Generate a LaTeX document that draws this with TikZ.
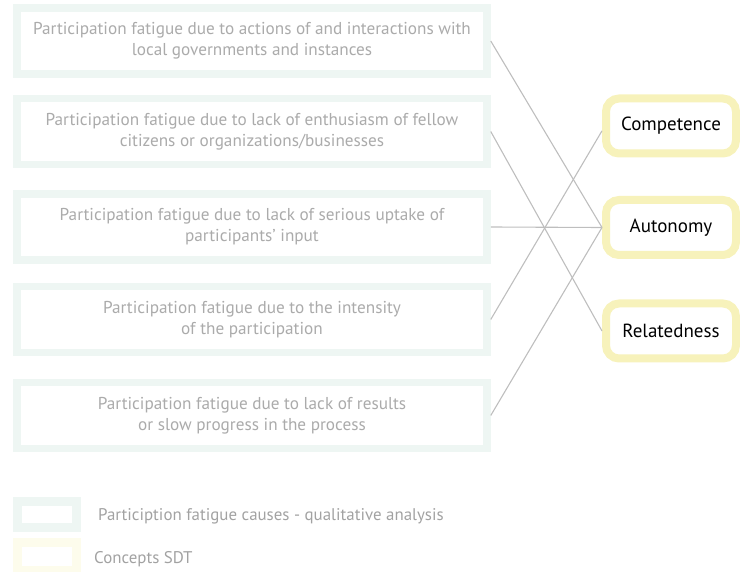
\documentclass[tikz,border=0pt]{standalone}
\usepackage{fontspec}
\setmainfont{PT Sans}
\definecolor{causeborder}{HTML}{EEF6F3}
\definecolor{causetext}{HTML}{ABABAB}
\definecolor{sdtborder}{HTML}{F7F2BB}
\definecolor{legyellow}{HTML}{FDFCEC}
\definecolor{legtext}{HTML}{A2A2A2}
\definecolor{linkgray}{HTML}{BEBEBE}
\begin{document}
\begin{tikzpicture}[x=1pt,y=-1pt,
  cause/.style={draw=causeborder,line width=7.5pt,fill=white,minimum width=470pt,minimum height=66pt,
    inner sep=0pt,align=center,text=causetext,font=\fontsize{17.2}{21}\selectfont},
  sdt/.style={draw=sdtborder,line width=8pt,fill=white,rounded corners=13pt,minimum width=130pt,
    minimum height=55pt,inner sep=0pt,text=black,font=\fontsize{19}{20}\selectfont},
  link/.style={draw=linkgray,line width=1.1pt},
  legtxt/.style={anchor=west,inner sep=0pt,text=legtext,font=\fontsize{16.9}{20}\selectfont}]
\useasboundingbox (0,0) rectangle (740,572);
\node[cause] (c1) at (252,41) {Participation fatigue due to actions of and interactions with\\local governments and instances};
\node[cause] (c2) at (252,131.5) {Participation fatigue due to lack of enthusiasm of fellow\\citizens or organizations/businesses};
\node[cause] (c3) at (252,227) {Participation fatigue due to lack of serious uptake of\\participants’ input};
\node[cause] (c4) at (252,319.5) {Participation fatigue due to the intensity\\of the participation};
\node[cause] (c5) at (252,415.5) {Participation fatigue due to lack of results\\or slow progress in the process};
\node[sdt] (comp) at (671,126) {Competence};
\node[sdt] (auto) at (671,227.5) {Autonomy};
\node[sdt] (rel) at (671,331) {Relatedness};
\draw[link] (c1.east) -- (auto.west);
\draw[link] (c2.east) -- (rel.west);
\draw[link] (c3.east) -- (auto.west);
\draw[link] (c4.east) -- (comp.184);
\draw[link] (c5.east) -- (auto.west);
\node[draw=causeborder,line width=9pt,fill=white,minimum width=59pt,minimum height=26pt,inner sep=0pt] (l1) at (47,514.5) {};
\node[draw=legyellow,line width=9pt,fill=white,minimum width=59pt,minimum height=28pt,inner sep=0pt] (l2) at (47,556.5) {};
\node[legtxt] (t1) at (98,516) {Particiption fatigue causes - qualitative analysis};
\node[legtxt] (t2) at (94,559) {Concepts SDT};
\end{tikzpicture}
\end{document}
